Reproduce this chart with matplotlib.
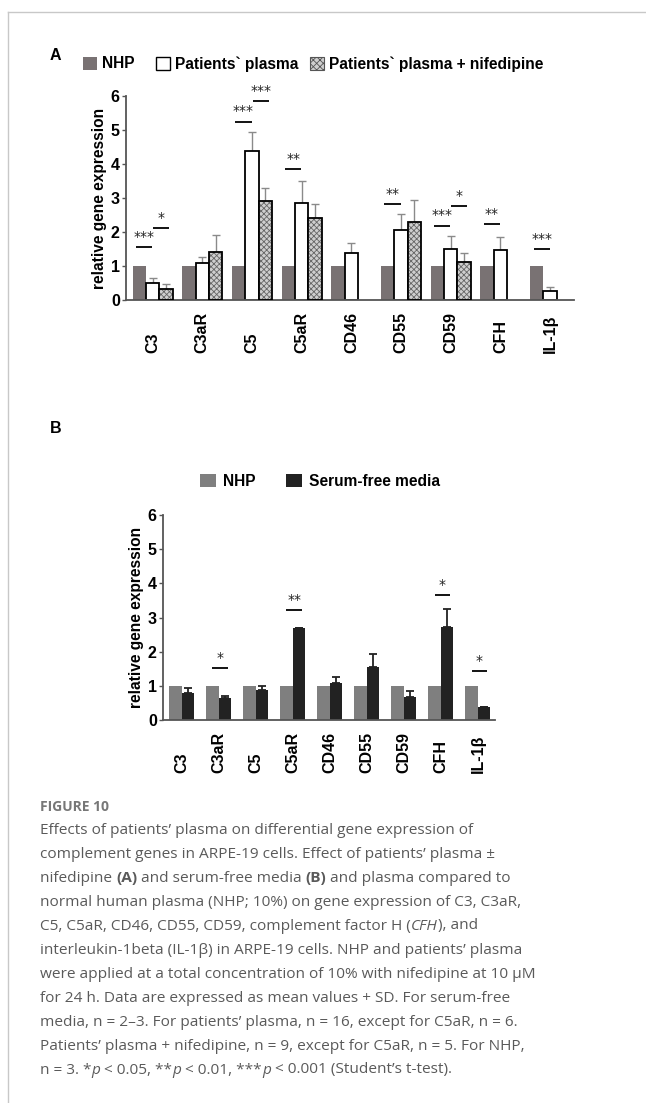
import matplotlib
matplotlib.use("Agg")
import matplotlib.pyplot as plt
import numpy as np
from matplotlib.patches import Patch
from matplotlib.lines import Line2D

# ---------------- data ----------------
genes = ["C3", "C3aR", "C5", "C5aR", "CD46", "CD55", "CD59", "CFH", "IL-1β"]

# Panel A
a_nhp = [1, 1, 1, 1, 1, 1, 1, 1, 1]
a_pat = [0.51, 1.08, 4.39, 2.84, 1.37, 2.07, 1.49, 1.47, 0.27]
a_pat_sd = [0.13, 0.19, 0.56, 0.67, 0.30, 0.47, 0.38, 0.37, 0.11]
a_nif = [0.32, 1.42, 2.91, 2.41, np.nan, 2.29, 1.11, np.nan, np.nan]
a_nif_sd = [0.14, 0.49, 0.37, 0.42, np.nan, 0.64, 0.26, np.nan, np.nan]
# significance: (gene index, comparison, level, label)
a_sig_gene = [0, 0, 2, 2, 3, 5, 6, 6, 7, 8]
a_sig_pair = ["nhp-pat", "pat-nif", "nhp-pat", "pat-nif", "nhp-pat",
              "nhp-pat", "nhp-pat", "pat-nif", "nhp-pat", "nhp-pat"]
a_sig_y = [1.57, 2.13, 5.25, 5.85, 3.84, 2.82, 2.19, 2.76, 2.24, 1.49]
a_sig_txt = ["***", "*", "***", "***", "**", "**", "***", "*", "**", "***"]

# Panel B
b_nhp = [1, 1, 1, 1, 1, 1, 1, 1, 1]
b_sfm = [0.78, 0.63, 0.88, 2.69, 1.09, 1.54, 0.66, 2.72, 0.37]
b_sfm_sd = [0.17, 0.07, 0.12, 0.0, 0.18, 0.39, 0.19, 0.53, 0.0]
b_sig_gene = [1, 3, 7, 8]
b_sig_y = [1.53, 3.22, 3.66, 1.44]
b_sig_txt = ["*", "**", "*", "*"]

yticks = [0, 1, 2, 3, 4, 5, 6]

caption_title = "FIGURE 10"
caption_lines = [
    [("Effects of patients’ plasma on differential gene expression of", "n")],
    [("complement genes in ARPE-19 cells. Effect of patients’ plasma ±", "n")],
    [("nifedipine ", "n"), ("(A)", "b"), (" and serum-free media ", "n"), ("(B)", "b"),
     (" and plasma compared to", "n")],
    [("normal human plasma (NHP; 10%) on gene expression of C3, C3aR,", "n")],
    [("C5, C5aR, CD46, CD55, CD59, complement factor H (", "n"), ("CFH", "i"),
     ("), and", "n")],
    [("interleukin-1beta (IL-1β) in ARPE-19 cells. NHP and patients’ plasma", "n")],
    [("were applied at a total concentration of 10% with nifedipine at 10 μM", "n")],
    [("for 24 h. Data are expressed as mean values + SD. For serum-free", "n")],
    [("media, n = 2–3. For patients’ plasma, n = 16, except for C5aR, n = 6.", "n")],
    [("Patients’ plasma + nifedipine, n = 9, except for C5aR, n = 5. For NHP,", "n")],
    [("n = 3. *", "n"), ("p", "i"), (" < 0.05, **", "n"), ("p", "i"), (" < 0.01, ***", "n"),
     ("p", "i"), (" < 0.001 (Student’s t-test).", "n")],
]

# ---------------- style ----------------
W, H = 646, 1103
DPI = 100
plt.rcParams["font.family"] = ["Liberation Sans", "DejaVu Sans"]
plt.rcParams["hatch.linewidth"] = 0.6
fig = plt.figure(figsize=(W / DPI, H / DPI), dpi=DPI)

def ax_rect(x0, x1, y0, y1):
    return [x0 / W, 1 - y1 / H, (x1 - x0) / W, (y1 - y0) / H]

c_nhp = "#797273"
axis_col = "#555555"
FS = 11.2

def style_axes(ax, xl):
    ax.set_ylim(0, 6)
    ax.set_xlim(*xl)
    for s in ["top", "right"]:
        ax.spines[s].set_visible(False)
    for s in ["left", "bottom"]:
        ax.spines[s].set_color(axis_col)
        ax.spines[s].set_linewidth(1.3)
    ax.set_yticks(yticks)
    ax.set_yticklabels([str(t) for t in yticks], fontweight="bold", fontsize=FS + 0.3)
    ax.tick_params(axis="y", length=3, width=1, color=axis_col, pad=1.5)
    ax.set_xticks(range(len(genes)))
    ax.set_xticklabels(genes, rotation=90, va="bottom", ha="center",
                       fontweight="bold", fontsize=FS + 0.3)
    ax.tick_params(axis="x", length=0, pad=38)
    ax.set_ylabel("relative gene expression", fontweight="bold", fontsize=FS,
                  labelpad=3)

# ---------------- Panel A ----------------
axA = fig.add_axes(ax_rect(126, 574, 96, 300))
x = np.arange(len(genes))
wa = 0.268
axA.bar(x - wa, a_nhp, wa, color=c_nhp, linewidth=0, zorder=2)
axA.bar(x, a_pat, wa, color="white", edgecolor="black", linewidth=1.3, zorder=2)
axA.bar(x + wa, a_nif, wa, color="#cfcfcf", edgecolor="#666666", hatch="xxxxxx",
        linewidth=0, zorder=2)
axA.bar(x + wa, a_nif, wa, fill=False, edgecolor="black", linewidth=1.3, zorder=3)
err_col_a = "#8a8a8a"
axA.errorbar(x, a_pat, yerr=[np.zeros(len(x)), a_pat_sd], fmt="none",
             ecolor=err_col_a, elinewidth=1, capsize=3, capthick=1, zorder=1)
axA.errorbar(x + wa, a_nif, yerr=[np.zeros(len(x)), a_nif_sd], fmt="none",
             ecolor=err_col_a, elinewidth=1, capsize=3, capthick=1, zorder=1)
for g, p, yv, t in zip(a_sig_gene, a_sig_pair, a_sig_y, a_sig_txt):
    if p == "nhp-pat":
        x0, x1 = g - wa * 1.25, g - 0.01
    else:
        x0, x1 = g + 0.01, g + wa * 1.25
    axA.plot([x0, x1], [yv, yv], color="black", lw=1.3, solid_capstyle="butt")
    axA.text((x0 + x1) / 2, yv + 0.09, t, ha="center", va="bottom", fontsize=10,
             family="DejaVu Sans", color="#222222")
style_axes(axA, (-0.537, 8.48))

# legend A
legA_items = [
    (Patch(facecolor=c_nhp, edgecolor=c_nhp, linewidth=0), "NHP", 83),
    (Patch(facecolor="white", edgecolor="black", linewidth=1), "Patients` plasma", 156),
    (Patch(facecolor="#cfcfcf", edgecolor="#555555", hatch="xxxxx", linewidth=0.8),
     "Patients` plasma + nifedipine", 310),
]
for h, lab, px in legA_items:
    lg = fig.legend([h], [lab], loc="center left",
                    bbox_to_anchor=(px / W, 1 - 64 / H), frameon=False,
                    handlelength=0.9, handleheight=0.9, handletextpad=0.35,
                    prop={"weight": "bold", "size": FS}, borderpad=0,
                    borderaxespad=0)

# ---------------- Panel B ----------------
axB = fig.add_axes(ax_rect(163, 495, 515, 720))
wb = 0.338
axB.bar(x - wb / 2, b_nhp, wb, color="#7f7f7f", linewidth=0, zorder=2)
axB.bar(x + wb / 2, b_sfm, wb, color="#222222", linewidth=0, zorder=2)
axB.errorbar(x + wb / 2, b_sfm, yerr=[np.zeros(len(x)), b_sfm_sd], fmt="none",
             ecolor="#222222", elinewidth=1.3, capsize=3, capthick=1.3, zorder=1)
for g, yv, t in zip(b_sig_gene, b_sig_y, b_sig_txt):
    x0, x1 = g - wb / 2, g + wb / 2 + 0.08
    axB.plot([x0, x1], [yv, yv], color="black", lw=1.3, solid_capstyle="butt")
    axB.text((x0 + x1) / 2, yv + 0.09, t, ha="center", va="bottom", fontsize=10,
             family="DejaVu Sans", color="#222222")
style_axes(axB, (-0.50, 8.46))

legB_items = [
    (Patch(facecolor="#7f7f7f", linewidth=0), "NHP", 200),
    (Patch(facecolor="#222222", linewidth=0), "Serum-free media", 286),
]
for h, lab, px in legB_items:
    fig.legend([h], [lab], loc="center left",
               bbox_to_anchor=(px / W, 1 - 481 / H), frameon=False,
               handlelength=1.05, handleheight=0.9, handletextpad=0.4,
               prop={"weight": "bold", "size": FS}, borderpad=0,
               borderaxespad=0)

# panel labels
fig.text(50 / W, 1 - 55 / H, "A", fontsize=11.5, fontweight="bold", va="center", ha="left")
fig.text(50 / W, 1 - 428 / H, "B", fontsize=11.5, fontweight="bold", va="center", ha="left")

# border
fig.add_artist(Line2D([7.5 / W, 1], [1 - 11.5 / H, 1 - 11.5 / H], color="#c8c8c8",
                      lw=1, transform=fig.transFigure))
fig.add_artist(Line2D([7.5 / W, 7.5 / W], [0, 1 - 11.5 / H], color="#c8c8c8",
                      lw=1, transform=fig.transFigure))

# ---------------- caption ----------------
cap_font = ["Open Sans", "DejaVu Sans"]
cap_col = "#5a5a5a"
fig.text(40 / W, 1 - 807 / H, caption_title, fontsize=10, fontweight="bold",
         family=cap_font, color="#777777", va="center", ha="left")

renderer = fig.canvas.get_renderer()
cap_size = 11.05
y_first, dy = 830, 24.0
for i, segs in enumerate(caption_lines):
    yy = 1 - (y_first + i * dy) / H
    xp = 40.0
    for txt, sty in segs:
        kw = dict(fontsize=cap_size, family=cap_font, color=cap_col,
                  va="center", ha="left")
        if sty == "b":
            kw["fontweight"] = "bold"
        elif sty == "i":
            kw["fontstyle"] = "italic"
        t = fig.text(xp / W, yy, txt, **kw)
        bb = t.get_window_extent(renderer=renderer)
        xp += bb.width

fig.savefig("out.png", dpi=DPI)
